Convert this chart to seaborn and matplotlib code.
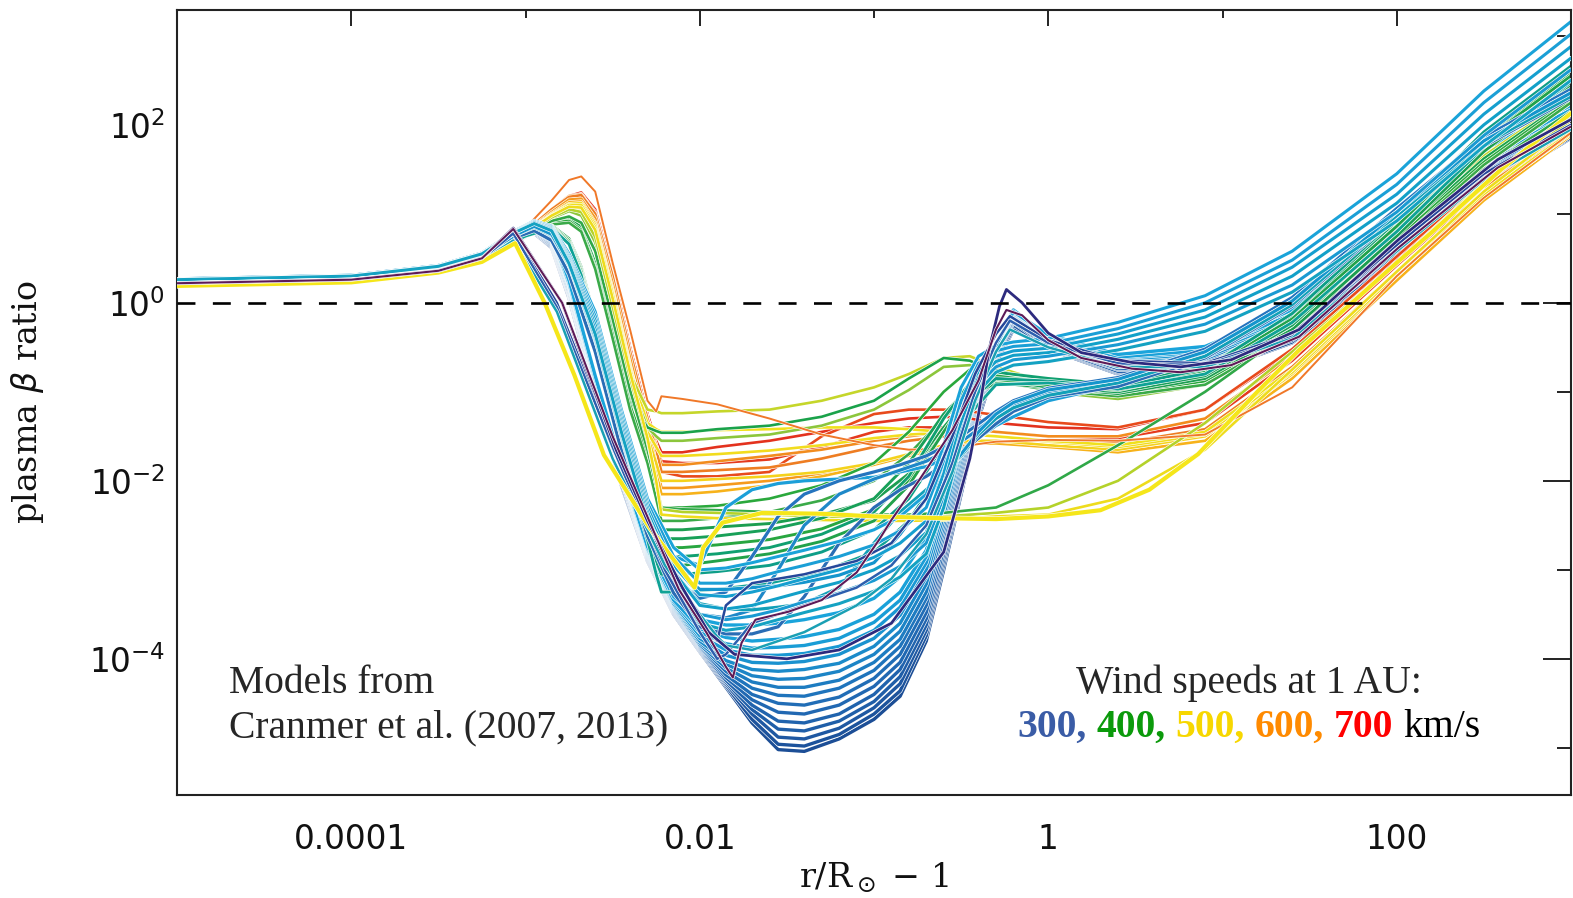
import numpy as np
import pandas as pd
import matplotlib
matplotlib.use("Agg")
import matplotlib.pyplot as plt
import matplotlib.patheffects as pe
from matplotlib.ticker import FixedLocator, FixedFormatter, NullFormatter
from matplotlib.offsetbox import TextArea, HPacker, AnnotationBbox
import seaborn as sns

# ---------------------------------------------------------------------------
# Model tracks: log10(r/Rsun - 1) versus log10(plasma beta)
# ---------------------------------------------------------------------------

# sample grid used by the slow-wind (300 km/s, blue) tracks
slow_grid = [-5.0, -4.0, -3.5, -3.25, -3.05, -2.95, -2.85, -2.75, -2.6, -2.45, -2.3,
             -2.15, -2.0, -1.85, -1.7, -1.55, -1.4, -1.2, -1.0, -0.85, -0.7, -0.6,
             -0.5, -0.4, -0.3, -0.2, 0.0, 0.4, 0.9, 1.4, 2.0, 2.5, 3.0]

# deepest slow-wind tracks (bottom of the trough), lowest first
deep_tracks = [
    [0.23, 0.27, 0.38, 0.50, 0.72, 0.78, 0.62, 0.05, -1.05, -2.05, -2.90, -3.50, -3.92, -4.32, -4.72, -5.02, -5.04, -4.90, -4.68, -4.42, -3.80, -3.00, -2.15, -1.30, -0.70, -0.30, -0.52, -0.80, -0.80, -0.45, 0.45, 1.25, 1.85],
    [0.23, 0.27, 0.38, 0.50, 0.72, 0.78, 0.63, 0.06, -1.03, -2.03, -2.89, -3.49, -3.91, -4.30, -4.68, -4.96, -4.98, -4.85, -4.62, -4.36, -3.74, -2.94, -2.10, -1.26, -0.68, -0.28, -0.51, -0.79, -0.79, -0.44, 0.47, 1.27, 1.86],
    [0.23, 0.27, 0.38, 0.51, 0.73, 0.79, 0.64, 0.08, -1.00, -2.00, -2.88, -3.48, -3.90, -4.28, -4.62, -4.88, -4.90, -4.78, -4.55, -4.28, -3.68, -2.88, -2.05, -1.22, -0.65, -0.25, -0.50, -0.78, -0.77, -0.42, 0.50, 1.30, 1.88],
    [0.23, 0.27, 0.38, 0.51, 0.73, 0.79, 0.65, 0.09, -0.99, -1.99, -2.87, -3.47, -3.89, -4.26, -4.57, -4.79, -4.81, -4.70, -4.48, -4.20, -3.62, -2.82, -2.00, -1.18, -0.62, -0.22, -0.49, -0.77, -0.75, -0.40, 0.53, 1.33, 1.90],
    [0.24, 0.28, 0.39, 0.52, 0.74, 0.80, 0.66, 0.10, -0.98, -1.98, -2.86, -3.46, -3.88, -4.24, -4.52, -4.70, -4.72, -4.62, -4.40, -4.12, -3.55, -2.76, -1.95, -1.15, -0.60, -0.20, -0.48, -0.75, -0.73, -0.38, 0.56, 1.36, 1.92],
    [0.24, 0.28, 0.39, 0.52, 0.74, 0.80, 0.67, 0.11, -0.96, -1.96, -2.85, -3.45, -3.87, -4.21, -4.46, -4.60, -4.62, -4.52, -4.31, -4.04, -3.48, -2.69, -1.90, -1.12, -0.58, -0.18, -0.47, -0.74, -0.71, -0.36, 0.59, 1.39, 1.95],
    [0.24, 0.28, 0.39, 0.52, 0.75, 0.81, 0.68, 0.12, -0.95, -1.95, -2.84, -3.44, -3.86, -4.18, -4.40, -4.50, -4.52, -4.43, -4.22, -3.95, -3.40, -2.62, -1.85, -1.08, -0.56, -0.15, -0.46, -0.72, -0.69, -0.33, 0.62, 1.42, 1.97],
    [0.24, 0.28, 0.40, 0.52, 0.75, 0.81, 0.69, 0.13, -0.94, -1.94, -2.83, -3.43, -3.85, -4.14, -4.33, -4.41, -4.42, -4.33, -4.13, -3.86, -3.32, -2.56, -1.80, -1.05, -0.54, -0.14, -0.45, -0.71, -0.67, -0.30, 0.65, 1.45, 2.00],
    [0.24, 0.28, 0.40, 0.53, 0.76, 0.82, 0.70, 0.15, -0.92, -1.92, -2.82, -3.42, -3.84, -4.10, -4.26, -4.32, -4.32, -4.24, -4.04, -3.78, -3.25, -2.50, -1.75, -1.02, -0.52, -0.12, -0.44, -0.70, -0.65, -0.28, 0.68, 1.48, 2.02],
    [0.24, 0.28, 0.40, 0.53, 0.76, 0.82, 0.71, 0.16, -0.91, -1.91, -2.81, -3.41, -3.82, -4.06, -4.19, -4.23, -4.22, -4.14, -3.95, -3.69, -3.16, -2.44, -1.70, -1.00, -0.51, -0.11, -0.43, -0.68, -0.63, -0.25, 0.71, 1.51, 2.05],
    [0.24, 0.28, 0.40, 0.53, 0.76, 0.83, 0.72, 0.18, -0.90, -1.90, -2.80, -3.40, -3.80, -4.02, -4.12, -4.14, -4.12, -4.05, -3.86, -3.60, -3.08, -2.38, -1.66, -0.98, -0.50, -0.10, -0.42, -0.67, -0.61, -0.23, 0.74, 1.54, 2.07],
    [0.24, 0.28, 0.40, 0.53, 0.76, 0.83, 0.73, 0.19, -0.89, -1.89, -2.79, -3.39, -3.77, -3.96, -4.04, -4.05, -4.03, -3.95, -3.77, -3.51, -3.00, -2.31, -1.62, -0.96, -0.49, -0.09, -0.41, -0.65, -0.59, -0.20, 0.77, 1.57, 2.10],
    [0.24, 0.29, 0.40, 0.54, 0.77, 0.84, 0.74, 0.20, -0.88, -1.88, -2.78, -3.38, -3.74, -3.90, -3.96, -3.96, -3.94, -3.86, -3.68, -3.42, -2.92, -2.25, -1.58, -0.94, -0.49, -0.08, -0.40, -0.64, -0.57, -0.18, 0.80, 1.60, 2.12],
    [0.25, 0.29, 0.41, 0.54, 0.78, 0.85, 0.75, 0.21, -0.86, -1.86, -2.77, -3.36, -3.70, -3.83, -3.88, -3.87, -3.85, -3.77, -3.59, -3.34, -2.85, -2.20, -1.54, -0.92, -0.48, -0.08, -0.39, -0.62, -0.55, -0.15, 0.83, 1.63, 2.15],
    [0.25, 0.29, 0.41, 0.54, 0.78, 0.85, 0.76, 0.22, -0.85, -1.85, -2.76, -3.34, -3.66, -3.76, -3.80, -3.78, -3.75, -3.67, -3.50, -3.25, -2.78, -2.14, -1.50, -0.90, -0.48, -0.08, -0.38, -0.61, -0.53, -0.13, 0.86, 1.66, 2.17],
    [0.25, 0.29, 0.41, 0.55, 0.79, 0.86, 0.78, 0.25, -0.82, -1.82, -2.74, -3.30, -3.56, -3.62, -3.62, -3.60, -3.56, -3.48, -3.32, -3.08, -2.64, -2.04, -1.44, -0.88, -0.48, -0.10, -0.36, -0.58, -0.49, -0.08, 0.92, 1.72, 2.22],
]
deep_colors = ["#1c4e96", "#1d539c", "#1f58a2", "#1f5ea8", "#2063ad", "#2168b2",
               "#216db6", "#1f74bc", "#1d7cc1", "#1c84c6", "#1b8bca", "#1a92cf",
               "#1998d3", "#199dd6", "#1aa1d9", "#1aa4db"]

# slow-wind tracks that climb early and finish on top at large radii
top_tracks = [
    [0.27, 0.31, 0.42, 0.56, 0.82, 0.92, 0.86, 0.55, -0.10, -1.20, -2.20, -2.75, -3.00, -2.98, -2.92, -2.85, -2.78, -2.68, -2.55, -2.40, -2.15, -1.60, -0.95, -0.60, -0.48, -0.44, -0.40, -0.22, 0.08, 0.58, 1.45, 2.38, 3.16],
    [0.27, 0.31, 0.42, 0.56, 0.82, 0.91, 0.85, 0.52, -0.15, -1.25, -2.25, -2.85, -3.15, -3.15, -3.10, -3.02, -2.95, -2.85, -2.72, -2.56, -2.30, -1.78, -1.10, -0.68, -0.54, -0.49, -0.46, -0.29, 0.00, 0.48, 1.33, 2.25, 3.02],
    [0.26, 0.30, 0.41, 0.55, 0.81, 0.91, 0.84, 0.50, -0.20, -1.30, -2.30, -2.95, -3.28, -3.30, -3.25, -3.18, -3.10, -3.00, -2.86, -2.70, -2.45, -1.92, -1.22, -0.76, -0.60, -0.54, -0.51, -0.35, -0.08, 0.40, 1.22, 2.12, 2.88],
    [0.26, 0.30, 0.41, 0.55, 0.81, 0.90, 0.83, 0.48, -0.25, -1.35, -2.35, -3.02, -3.40, -3.44, -3.40, -3.32, -3.24, -3.14, -3.00, -2.84, -2.58, -2.05, -1.35, -0.84, -0.66, -0.59, -0.56, -0.41, -0.16, 0.30, 1.12, 2.00, 2.75],
    [0.26, 0.30, 0.41, 0.55, 0.80, 0.90, 0.82, 0.46, -0.30, -1.40, -2.40, -3.08, -3.50, -3.56, -3.52, -3.45, -3.36, -3.26, -3.12, -2.96, -2.70, -2.18, -1.46, -0.92, -0.72, -0.64, -0.60, -0.47, -0.24, 0.20, 1.02, 1.88, 2.62],
    [0.26, 0.30, 0.41, 0.55, 0.80, 0.89, 0.81, 0.44, -0.35, -1.45, -2.45, -3.14, -3.60, -3.68, -3.64, -3.56, -3.48, -3.38, -3.24, -3.08, -2.82, -2.30, -1.58, -1.00, -0.78, -0.70, -0.66, -0.53, -0.32, 0.12, 0.92, 1.76, 2.50],
]
top_colors = ["#1aa3d9", "#1b9fd6", "#159fcf", "#12a0c8", "#1a9ad2", "#14a2c2"]

# slow-wind tracks that recover at intermediate radii
mid_tracks = [
    [0.25, 0.29, 0.40, 0.54, 0.78, 0.88, 0.78, 0.45, -0.35, -1.40, -2.30, -2.85, -2.95, -2.30, -2.10, -2.03, -2.00, -1.98, -1.96, -1.90, -1.84, -1.76, -1.66, -1.52, -1.38, -1.28, -1.10, -0.92, -0.58, 0.00, 1.00, 1.82, 2.38],
    [0.24, 0.28, 0.39, 0.52, 0.76, 0.84, 0.74, 0.38, -0.45, -1.55, -2.50, -3.10, -3.32, -3.25, -2.85, -2.40, -2.15, -2.00, -1.90, -1.82, -1.72, -1.62, -1.50, -1.36, -1.22, -1.10, -0.96, -0.84, -0.52, 0.06, 1.06, 1.86, 2.40],
    [0.24, 0.28, 0.39, 0.52, 0.75, 0.83, 0.73, 0.36, -0.50, -1.60, -2.56, -3.18, -3.50, -3.54, -3.45, -3.00, -2.50, -2.15, -1.98, -1.88, -1.78, -1.68, -1.56, -1.42, -1.27, -1.14, -1.00, -0.88, -0.56, 0.02, 1.02, 1.82, 2.36],
    [0.23, 0.27, 0.38, 0.51, 0.74, 0.81, 0.70, 0.32, -0.55, -1.66, -2.62, -3.26, -3.64, -3.72, -3.72, -3.64, -3.30, -2.70, -2.30, -2.10, -1.95, -1.82, -1.68, -1.52, -1.36, -1.22, -1.06, -0.94, -0.62, -0.04, 0.96, 1.76, 2.30],
    [0.24, 0.28, 0.40, 0.53, 0.77, 0.85, 0.76, 0.42, -0.40, -1.50, -2.45, -3.02, -3.38, -3.44, -3.45, -3.42, -3.38, -3.20, -2.70, -2.35, -2.10, -1.92, -1.72, -1.48, -1.30, -1.18, -1.04, -0.90, -0.60, -0.02, 0.98, 1.78, 2.32],
    [0.24, 0.28, 0.40, 0.53, 0.77, 0.86, 0.77, 0.43, -0.38, -1.48, -2.42, -2.98, -3.22, -3.22, -3.20, -3.18, -3.14, -3.06, -2.92, -2.60, -2.20, -1.95, -1.70, -1.45, -1.25, -1.12, -0.98, -0.86, -0.55, 0.02, 1.02, 1.82, 2.36],
]
mid_colors = ["#1c9fd8", "#2574be", "#1e88c8", "#2a6db5", "#12a0b8", "#1595cd"]

# sample grid used by the faster-wind (400-700 km/s) tracks
fast_grid = [-5.0, -4.0, -3.5, -3.25, -3.0, -2.85, -2.75, -2.68, -2.6, -2.5, -2.4,
             -2.3, -2.25, -2.22, -2.1, -1.9, -1.6, -1.3, -1.0, -0.8, -0.6, -0.45,
             -0.3, 0.0, 0.4, 0.9, 1.4, 2.0, 2.5, 3.0]

# 400 km/s tracks sitting low in the trough
teal_tracks = [
    [0.22, 0.26, 0.37, 0.50, 0.76, 0.87, 0.72, 0.40, -0.20, -1.00, -1.75, -2.25, -2.45, -2.55, -2.55, -2.52, -2.48, -2.38, -2.22, -1.92, -1.40, -1.05, -0.90, -0.95, -1.02, -0.85, -0.30, 0.75, 1.70, 2.45],
    [0.22, 0.26, 0.37, 0.50, 0.76, 0.86, 0.70, 0.38, -0.24, -1.05, -1.82, -2.35, -2.55, -2.65, -2.65, -2.62, -2.55, -2.42, -2.20, -1.80, -1.25, -0.95, -0.85, -0.95, -1.00, -0.82, -0.25, 0.82, 1.78, 2.52],
    [0.22, 0.26, 0.37, 0.50, 0.76, 0.86, 0.70, 0.37, -0.25, -1.06, -1.85, -2.40, -2.62, -2.75, -2.75, -2.72, -2.66, -2.54, -2.32, -2.00, -1.45, -1.05, -0.86, -0.92, -0.98, -0.78, -0.20, 0.88, 1.85, 2.58],
    [0.23, 0.27, 0.38, 0.51, 0.76, 0.85, 0.68, 0.34, -0.30, -1.12, -1.92, -2.50, -2.72, -2.85, -2.85, -2.82, -2.75, -2.60, -2.35, -1.95, -1.30, -0.90, -0.78, -0.85, -0.92, -0.72, -0.15, 0.92, 1.90, 2.62],
    [0.22, 0.26, 0.37, 0.50, 0.75, 0.85, 0.68, 0.35, -0.28, -1.10, -1.90, -2.50, -2.80, -2.95, -2.95, -2.90, -2.82, -2.68, -2.45, -2.05, -1.45, -1.02, -0.82, -0.90, -0.96, -0.76, -0.18, 0.86, 1.82, 2.55],
    [0.23, 0.27, 0.38, 0.51, 0.75, 0.84, 0.66, 0.32, -0.33, -1.16, -1.98, -2.60, -2.90, -3.05, -3.05, -3.02, -2.95, -2.80, -2.55, -2.20, -1.60, -1.10, -0.85, -0.88, -0.95, -0.74, -0.12, 0.95, 1.92, 2.66],
    [0.23, 0.27, 0.38, 0.51, 0.75, 0.84, 0.66, 0.31, -0.35, -1.18, -2.02, -2.66, -3.05, -3.25, -3.25, -3.22, -3.15, -3.02, -2.80, -2.45, -1.85, -1.25, -0.92, -0.90, -0.97, -0.80, -0.22, 0.80, 1.75, 2.48],
]
teal_colors = ["#1c9e50", "#18a058", "#28a640", "#10a070", "#22a24a", "#0e9e88", "#0fa296"]

# 400-700 km/s tracks with a raised plateau
fast_tracks = [
    [0.23, 0.27, 0.38, 0.52, 0.80, 1.05, 1.20, 1.24, 1.05, 0.35, -0.50, -1.25, -1.55, -1.68, -1.68, -1.62, -1.55, -1.45, -1.35, -1.30, -1.28, -1.30, -1.35, -1.40, -1.42, -1.20, -0.55, 0.50, 1.35, 2.00],
    [0.23, 0.27, 0.38, 0.52, 0.80, 1.03, 1.17, 1.20, 0.98, 0.25, -0.60, -1.30, -1.62, -1.90, -1.95, -1.95, -1.90, -1.50, -1.25, -1.20, -1.20, -1.22, -1.26, -1.34, -1.40, -1.20, -0.52, 0.52, 1.38, 2.02],
    [0.23, 0.27, 0.38, 0.52, 0.80, 1.04, 1.18, 1.22, 1.02, 0.30, -0.55, -1.30, -1.60, -1.78, -1.80, -1.80, -1.76, -1.62, -1.45, -1.40, -1.40, -1.42, -1.45, -1.50, -1.52, -1.35, -0.65, 0.42, 1.28, 1.95],
    [0.22, 0.26, 0.37, 0.51, 0.80, 1.05, 1.20, 1.22, 1.00, 0.30, -0.55, -1.30, -1.60, -1.82, -1.82, -1.78, -1.72, -1.65, -1.55, -1.50, -1.45, -1.42, -1.45, -1.50, -1.50, -1.30, -0.60, 0.45, 1.30, 1.95],
    [0.23, 0.27, 0.38, 0.52, 0.80, 1.05, 1.19, 1.21, 1.00, 0.30, -0.55, -1.30, -1.65, -1.90, -1.90, -1.88, -1.85, -1.75, -1.62, -1.55, -1.50, -1.48, -1.50, -1.55, -1.58, -1.42, -0.72, 0.35, 1.25, 1.92],
    [0.22, 0.26, 0.37, 0.51, 0.79, 1.02, 1.16, 1.17, 0.95, 0.22, -0.62, -1.40, -1.80, -2.08, -2.08, -2.05, -2.00, -1.92, -1.80, -1.70, -1.62, -1.58, -1.58, -1.60, -1.64, -1.50, -0.82, 0.28, 1.18, 1.90],
    [0.22, 0.26, 0.37, 0.50, 0.79, 1.00, 1.13, 1.14, 0.90, 0.15, -0.70, -1.50, -1.90, -2.15, -2.15, -2.12, -2.05, -1.95, -1.82, -1.72, -1.62, -1.58, -1.58, -1.62, -1.68, -1.55, -0.85, 0.25, 1.15, 1.88],
    [0.22, 0.26, 0.37, 0.50, 0.78, 0.98, 1.10, 1.10, 0.85, 0.10, -0.75, -1.50, -1.80, -2.00, -2.00, -1.98, -1.95, -1.90, -1.80, -1.70, -1.60, -1.55, -1.55, -1.60, -1.65, -1.50, -0.80, 0.30, 1.20, 1.90],
    [0.22, 0.26, 0.37, 0.50, 0.78, 0.99, 1.11, 1.12, 0.88, 0.12, -0.72, -1.45, -1.62, -1.72, -1.72, -1.70, -1.66, -1.60, -1.52, -1.48, -1.46, -1.47, -1.50, -1.56, -1.62, -1.48, -0.78, 0.32, 1.20, 1.90],
    [0.22, 0.26, 0.37, 0.50, 0.78, 0.98, 1.10, 1.10, 0.85, 0.10, -0.75, -1.35, -1.42, -1.45, -1.45, -1.43, -1.42, -1.40, -1.40, -1.42, -1.45, -1.48, -1.50, -1.55, -1.60, -1.45, -0.75, 0.35, 1.22, 1.92],
    [0.22, 0.26, 0.37, 0.50, 0.78, 0.97, 1.08, 1.06, 0.80, 0.00, -0.80, -1.20, -1.22, -1.24, -1.24, -1.22, -1.20, -1.10, -0.95, -0.80, -0.62, -0.60, -0.72, -0.90, -0.98, -0.80, -0.22, 0.80, 1.65, 2.32],
    [0.22, 0.26, 0.37, 0.50, 0.77, 0.95, 1.03, 0.98, 0.68, -0.10, -0.90, -1.40, -1.50, -1.55, -1.55, -1.52, -1.48, -1.38, -1.20, -0.98, -0.72, -0.70, -0.80, -1.00, -1.08, -0.92, -0.35, 0.68, 1.55, 2.25],
    [0.21, 0.26, 0.36, 0.49, 0.76, 0.92, 0.95, 0.85, 0.45, -0.30, -1.10, -1.40, -1.44, -1.46, -1.46, -1.42, -1.38, -1.28, -1.10, -0.85, -0.62, -0.65, -0.78, -0.95, -1.02, -0.86, -0.28, 0.75, 1.62, 2.30],
    [0.21, 0.25, 0.36, 0.49, 0.75, 0.90, 0.92, 0.82, 0.40, -0.35, -1.15, -1.70, -2.05, -2.30, -2.30, -2.28, -2.20, -2.05, -1.80, -1.45, -1.00, -0.75, -0.75, -0.92, -1.02, -0.88, -0.32, 0.72, 1.58, 2.28],
    [0.21, 0.25, 0.36, 0.49, 0.74, 0.88, 0.90, 0.80, 0.38, -0.40, -1.20, -1.80, -2.20, -2.45, -2.45, -2.42, -2.35, -2.22, -2.00, -1.70, -1.30, -1.00, -0.88, -0.98, -1.05, -0.92, -0.36, 0.68, 1.55, 2.25],
]
fast_colors = ["#e3321e", "#e84a1c", "#e53a1e", "#f28c1e", "#ee7d22", "#f59a1e",
               "#f7b21a", "#f4d21c", "#f2dc1e", "#f0e01c", "#c5d62a", "#8cc63c",
               "#1aa24a", "#2aa83c", "#3aaa48"]

# tracks that stay flat out to ~1 Rsun before rising
late_tracks = [
    [0.21, 0.25, 0.36, 0.49, 0.75, 0.92, 0.97, 0.90, 0.58, -0.18, -0.98, -1.65, -2.05, -2.30, -2.32, -2.33, -2.35, -2.37, -2.38, -2.38, -2.36, -2.33, -2.30, -2.05, -1.60, -1.00, -0.30, 0.65, 1.50, 2.15],
    [0.22, 0.26, 0.37, 0.50, 0.77, 0.96, 1.05, 1.02, 0.74, -0.04, -0.84, -1.55, -2.00, -2.32, -2.35, -2.36, -2.38, -2.40, -2.41, -2.41, -2.40, -2.38, -2.36, -2.30, -2.00, -1.35, -0.55, 0.45, 1.35, 2.05],
    [0.22, 0.26, 0.37, 0.50, 0.78, 0.98, 1.08, 1.07, 0.82, 0.05, -0.78, -1.52, -2.00, -2.38, -2.40, -2.42, -2.43, -2.44, -2.45, -2.45, -2.44, -2.42, -2.40, -2.38, -2.20, -1.65, -0.75, 0.35, 1.25, 2.00],
]
late_colors = ["#30a848", "#b4d22a", "#eedc1c"]

# fast-wind track with the highest chromospheric peak
spike_track = [0.23, 0.27, 0.38, 0.52, 0.84, 1.15, 1.38, 1.42, 1.25, 0.45, -0.30, -1.10, -1.22, -1.05, -1.08, -1.14, -1.30, -1.48, -1.60, -1.65, -1.64, -1.60, -1.56, -1.54, -1.55, -1.48, -0.95, 0.30, 1.18, 1.91]

# tracks that turn over early in the transition region
early_grid = [-5.0, -4.0, -3.5, -3.25, -3.07, -2.82, -2.5, -2.2, -2.0, -1.9, -1.85, -1.7,
              -1.4, -1.1, -0.9, -0.7, -0.55, -0.42, -0.3, -0.22, 0.0, 0.4, 0.9, 1.4,
              2.0, 2.5, 3.0]
early_tracks = [
    [0.22, 0.26, 0.36, 0.49, 0.80, 0.0, -1.55, -2.9, -3.55, -3.8, -3.4, -3.15, -3.05, -2.9, -2.7, -2.2, -1.5, -0.8, -0.35, -0.15, -0.42, -0.65, -0.68, -0.35, 0.65, 1.45, 2.0],
    [0.22, 0.26, 0.36, 0.49, 0.78, -0.05, -1.62, -3.0, -3.7, -4.0, -3.95, -3.6, -3.4, -3.2, -2.95, -2.5, -1.8, -1.0, -0.45, -0.2, -0.45, -0.68, -0.7, -0.38, 0.6, 1.4, 1.97],
    [0.21, 0.25, 0.35, 0.47, 0.70, -0.1, -1.75, -2.95, -3.5, -3.75, -3.85, -3.9, -3.7, -3.4, -3.1, -2.6, -1.9, -1.1, -0.55, -0.3, -0.5, -0.72, -0.72, -0.4, 0.58, 1.38, 1.95],
]
early_colors = ["#25479a", "#2c5fae", "#1aa0b4"]

# 500 km/s reference model (bold yellow)
yellow_r = [-5.0, -4.0, -3.5, -3.25, -3.06, -2.89, -2.72, -2.55, -2.29, -2.03, -1.98, -1.87,
            -1.64, -1.3, -1.0, -0.6, -0.3, 0.0, 0.3, 0.58, 0.86, 1.2, 1.44, 2.0, 2.2, 2.6, 3.0]
yellow_beta = [0.19, 0.23, 0.34, 0.46, 0.67, 0.0, -0.81, -1.71, -2.52, -3.20, -2.75, -2.47,
               -2.36, -2.37, -2.40, -2.42, -2.43, -2.40, -2.33, -2.10, -1.70, -1.00, -0.53,
               0.45, 0.79, 1.50, 2.13]

# 300 km/s model with the beta > 1 excursion near 0.6 Rsun
navy_r = [-5.0, -4.0, -3.5, -3.25, -3.07, -2.79, -2.48, -2.3, -2.1, -1.95, -1.8, -1.5, -1.2,
          -0.9, -0.6, -0.45, -0.4, -0.34, -0.28, -0.24, -0.15, 0.0, 0.19, 0.48, 0.76, 1.05,
          1.44, 2.01, 2.58, 3.0]
navy_beta = [0.22, 0.26, 0.36, 0.50, 0.84, 0.0, -1.65, -2.45, -3.2, -3.7, -3.95, -4.0, -3.9,
             -3.6, -2.8, -1.75, -1.25, -0.53, -0.04, 0.15, 0.0, -0.34, -0.56, -0.67, -0.72,
             -0.64, -0.30, 0.71, 1.61, 2.06]

# slowest model with the sharp dip near 0.015 Rsun
maroon_r = [-5.0, -4.0, -3.5, -3.25, -3.07, -2.79, -2.5, -2.12, -1.96, -1.85, -1.81, -1.76,
            -1.68, -1.49, -1.3, -1.1, -0.97, -0.9, -0.74, -0.55, -0.4, -0.3, -0.24, -0.15,
            0.0, 0.19, 0.48, 0.76, 1.05, 1.44, 2.01, 2.58, 3.0]
maroon_beta = [0.22, 0.26, 0.36, 0.50, 0.83, 0.0, -1.5, -3.22, -3.71, -4.09, -4.21, -3.82,
               -3.56, -3.47, -3.34, -3.03, -2.66, -2.44, -1.99, -1.43, -0.87, -0.30, -0.08,
               -0.14, -0.42, -0.62, -0.74, -0.78, -0.70, -0.38, 0.62, 1.52, 1.98]

# axis ticks
x_major = [1e-4, 1e-2, 1.0, 1e2]
x_major_labels = ["0.0001", "0.01", "1", "100"]
x_minor = [1e-3, 1e-1, 1e1]
y_major = [1e-4, 1e-2, 1.0, 1e2]
y_major_labels = [r"$10^{-4}$", r"$10^{-2}$", r"$10^{0}$", r"$10^{2}$"]
y_minor = [1e-5, 1e-3, 1e-1, 1e1, 1e3]

# wind-speed key
speeds = ["300,", "400,", "500,", "600,", "700"]
speed_colors = ["#3a5ca6", "#0b9a0b", "#f7d700", "#ff8a00", "#ff0000"]

# ---------------------------------------------------------------------------
sns.set_theme(style="white")
plt.rcParams["font.family"] = ["DejaVu Sans"]
plt.rcParams["mathtext.fontset"] = "dejavusans"
serif = ["Liberation Serif", "DejaVu Serif"]

W, H = 1573, 898
fig = plt.figure(figsize=(W / 100, H / 100), dpi=100)
ax = fig.add_axes([177 / W, 1 - 795 / H, (1571 - 177) / W, (795 - 10) / H])
ax.set_xscale("log")
ax.set_yscale("log")


def draw_track(r_log, beta_log, color, lw, z):
    df = pd.DataFrame({"r": 10.0 ** np.asarray(r_log), "beta": 10.0 ** np.asarray(beta_log)})
    sns.lineplot(data=df, x="r", y="beta", color=color, linewidth=lw, sort=False,
                 estimator=None, legend=False, ax=ax, zorder=z,
                 path_effects=[pe.Stroke(linewidth=lw + 0.9, foreground="white"), pe.Normal()])


z = 2
for tr, c in zip(deep_tracks, deep_colors):
    draw_track(slow_grid, tr, c, 2.4, z); z += 0.01
for tr, c in zip(fast_tracks, fast_colors):
    draw_track(fast_grid, tr, c, 1.9, z); z += 0.01
for tr, c in zip(late_tracks, late_colors):
    draw_track(fast_grid, tr, c, 1.9, z); z += 0.01
draw_track(fast_grid, spike_track, "#f07828", 1.4, z); z += 0.01
for tr, c in zip(teal_tracks, teal_colors):
    draw_track(fast_grid, tr, c, 2.1, z); z += 0.01
for tr, c in zip(mid_tracks, mid_colors):
    draw_track(slow_grid, tr, c, 2.3, z); z += 0.01
for tr, c in zip(top_tracks, top_colors):
    draw_track(slow_grid, tr, c, 2.2, z); z += 0.01
for tr, c in zip(early_tracks, early_colors):
    draw_track(early_grid, tr, c, 1.8, z); z += 0.01
draw_track(yellow_r, yellow_beta, "#f5e61a", 3.0, z); z += 0.01
draw_track(navy_r, navy_beta, "#2d2a7e", 2.0, z); z += 0.01
draw_track(maroon_r, maroon_beta, "#5d1a57", 1.5, z); z += 0.01

# beta = 1 reference line
ax.axhline(1.0, color="black", lw=1.9, dashes=(6.8, 6.6), zorder=10)

ax.set_xlim(1e-5, 1e3)
ax.set_ylim(10 ** -5.53, 10 ** 3.29)

ax.xaxis.set_major_locator(FixedLocator(x_major))
ax.xaxis.set_major_formatter(FixedFormatter(x_major_labels))
ax.xaxis.set_minor_locator(FixedLocator(x_minor))
ax.xaxis.set_minor_formatter(NullFormatter())
ax.yaxis.set_major_locator(FixedLocator(y_major))
ax.yaxis.set_major_formatter(FixedFormatter(y_major_labels))
ax.yaxis.set_minor_locator(FixedLocator(y_minor))
ax.yaxis.set_minor_formatter(NullFormatter())

ax.tick_params(axis="both", which="both", direction="in", top=True, right=True,
               width=1.4, color="#222222", labelcolor="#111111")
ax.tick_params(axis="x", which="major", length=11.5, pad=20, labelsize=23.5)
ax.tick_params(axis="x", which="minor", length=6)
ax.tick_params(axis="y", which="major", length=20, pad=8.5, labelsize=23.5)
ax.tick_params(axis="y", which="minor", length=10)
for s in ax.spines.values():
    s.set_linewidth(1.5)
    s.set_color("#222222")

ax.set_xlabel(r"r/R$_\odot$ $-$ 1", fontsize=24, family=["DejaVu Serif"], color="#111111")
ax.xaxis.set_label_coords(0.5, -0.084)
ax.set_ylabel(r"plasma $\beta$ ratio", fontsize=24, family=["DejaVu Serif"], color="#111111")
ax.yaxis.set_label_coords(-0.094, 0.5)

# annotations
fig.text(229 / W, 1 - 693 / H, "Models from", fontsize=28.5, family=serif, va="baseline")
fig.text(229 / W, 1 - 737 / H, "Cranmer et al. (2007, 2013)", fontsize=28.5, family=serif,
         va="baseline")
fig.text(1249 / W, 1 - 693 / H, "Wind speeds at 1 AU:", fontsize=28.5, family=serif,
         ha="center", va="baseline")

pieces = [TextArea(s, textprops=dict(color=c, fontweight="bold", fontsize=28.5, family=serif))
          for s, c in zip(speeds, speed_colors)]
pieces.append(TextArea("km/s", textprops=dict(color="black", fontsize=28.5, family=serif)))
row = HPacker(children=pieces, align="baseline", pad=0, sep=7.1)
fig.add_artist(AnnotationBbox(row, (1249, H - 737 - 8.6), xycoords="figure pixels",
                              box_alignment=(0.5, 0.0), frameon=False, pad=0))

fig.savefig("out.png", dpi=100)
